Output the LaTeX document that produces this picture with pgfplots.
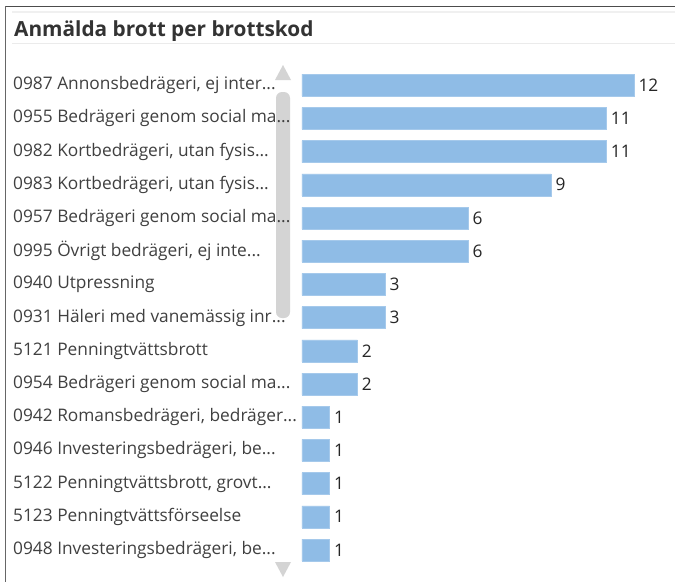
\documentclass[border=0pt]{standalone}
\usepackage{pgfplots}
\pgfplotsset{compat=1.18}
\usepackage{fontspec}
\setmainfont{Open Sans}
\definecolor{barblue}{HTML}{8FBCE6}
\definecolor{labgrey}{HTML}{404040}
\definecolor{scroll}{HTML}{D4D4D4}
\newcommand{\dd}{...}
\pgfplotstableread[col sep=comma]{
idx,val
0,12
1,11
2,11
3,9
4,6
5,6
6,3
7,3
8,2
9,2
10,1
11,1
12,1
13,1
14,1
}\datatable
\begin{document}
\begin{tikzpicture}[x=1pt,y=-1pt]
\fill[white,use as bounding box] (0,0) rectangle (675,582);
\draw[color=black!70,line width=1.6pt] (5,6.5) -- (675,6.5);
\draw[color=black!60,line width=1.4pt] (5.5,6) -- (5.5,582);
\draw[color=black!6,line width=1.5pt] (12,12) -- (675,12);
\draw[color=black!8,line width=1.5pt] (12,43.5) -- (675,43.5);
\node[anchor=base west,inner sep=0pt,font=\fontsize{20.8}{24}\selectfont\bfseries,text=black!80] at (14,36) {Anmälda brott per brottskod};
% scrollbar
\fill[scroll,rounded corners=6pt] (276,92) rectangle (290,318);
\fill[scroll] (283,65) -- (291,80) -- (275,80) -- cycle;
\fill[scroll] (283,577) -- (291,562) -- (275,562) -- cycle;
\begin{axis}[
  at={(302pt,-566.6pt)}, anchor=south west,
  scale only axis, width=332pt, height=498pt,
  xmin=0, xmax=12, ymin=-0.5, ymax=14.5,
  y dir=reverse,
  axis line style={draw=none},
  xtick=\empty,
  /pgf/number format/assume math mode=true,
  ytick={0,1,2,3,4,5,6,7,8,9,10,11,12,13,14},
  yticklabels={
    0987 Annonsbedrägeri{,} ej inter\dd,
    0955 Bedrägeri genom social ma\dd,
    0982 Kortbedrägeri{,} utan fysis\dd,
    0983 Kortbedrägeri{,} utan fysis\dd,
    0957 Bedrägeri genom social ma\dd,
    0995 Övrigt bedrägeri{,} ej inte\dd,
    0940 Utpressning,
    0931 Häleri med vanemässig inr\dd,
    5121 Penningtvättsbrott,
    0954 Bedrägeri genom social ma\dd,
    0942 Romansbedrägeri{,} bedräger\dd,
    0946 Investeringsbedrägeri{,} be\dd,
    5122 Penningtvättsbrott{,} grovt\dd,
    5123 Penningtvättsförseelse,
    0948 Investeringsbedrägeri{,} be\dd},
  major tick length=0pt,
  yticklabel style={anchor=west,inner sep=0pt,xshift=-289pt,
    font=\fontsize{17.3}{20}\selectfont,text=labgrey},
  clip=false,
]
\addplot[xbar, bar width=22pt, fill=barblue, draw=barblue!80!white,
  nodes near coords, point meta=x,
  every node near coord/.append style={anchor=west,xshift=1pt,font=\fontsize{17.3}{20}\selectfont,text=black!85}]
  table[x=val,y=idx] {\datatable};
\end{axis}
\end{tikzpicture}
\end{document}
